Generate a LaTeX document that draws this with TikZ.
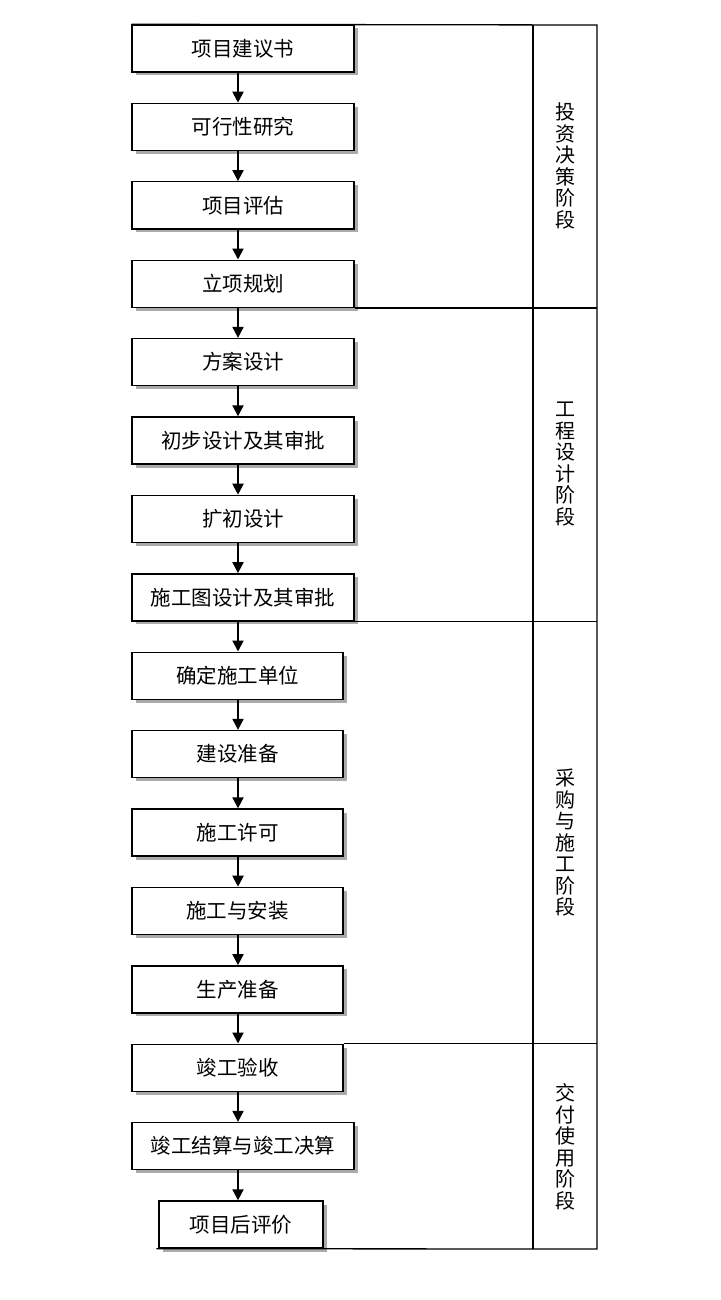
\documentclass[tikz,border=0pt]{standalone}
\usepackage{fontspec}
\setmainfont{Noto Sans CJK SC}
\usetikzlibrary{arrows.meta,calc,shadows}

\begin{document}
\begin{tikzpicture}[
  x=1pt,y=-1pt,
  >={Triangle[length=11pt,width=11pt]},
  stepbox/.style={draw,fill=white,line width=1.4pt,inner sep=0pt,
    minimum width=222pt,minimum height=47pt,
    font=\fontsize{20.5}{24}\selectfont,
    drop shadow={shadow xshift=3.5pt,shadow yshift=-3.5pt,fill=black!55,opacity=0.6}},
  narrowbox/.style={stepbox,minimum width=211pt},
  stagelabel/.style={align=center,inner sep=0pt,font=\fontsize{20}{21.5}\selectfont},
  frame/.style={line width=1.3pt},
  flow/.style={->,line width=2pt}
]
\useasboundingbox (0,0) rectangle (720,1300);

% x of the arrow spine and corners of the stage column
\coordinate (spine) at (238,0);
\coordinate (tr) at (597,25);
\coordinate (br) at (597,1249);
\coordinate (tm) at (533,25);
\coordinate (bm) at (533,1249);

% Steps, top to bottom.
\node[stepbox] (b1) at (243,48.5) {项目建议书};
\node[stepbox] (b2) at (243,126.9) {可行性研究};
\node[stepbox] (b3) at (243,205.3) {项目评估};
\node[stepbox] (b4) at (243,283.7) {立项规划};
\node[stepbox] (b5) at (243,362.1) {方案设计};
\node[stepbox] (b6) at (243,440.5) {初步设计及其审批};
\node[stepbox] (b7) at (243,518.9) {扩初设计};
\node[stepbox] (b8) at (243,597.3) {施工图设计及其审批};
\node[narrowbox] (b9) at (237.5,675.7) {确定施工单位};
\node[narrowbox] (b10) at (237.5,754.1) {建设准备};
\node[narrowbox] (b11) at (237.5,832.5) {施工许可};
\node[narrowbox] (b12) at (237.5,910.9) {施工与安装};
\node[narrowbox] (b13) at (237.5,989.3) {生产准备};
\node[narrowbox] (b14) at (237.5,1067.7) {竣工验收};
\node[stepbox] (b15) at (243,1146.1) {竣工结算与竣工决算};
\node[stepbox,minimum width=164pt] (b16) at (241,1224.5) {项目后评价};

% Connectors along one vertical spine.
\foreach \a/\b in {b1/b2,b2/b3,b3/b4,b4/b5,b5/b6,b6/b7,b7/b8,b8/b9,
                   b9/b10,b10/b11,b11/b12,b12/b13,b13/b14,b14/b15,b15/b16}
  \draw[flow] (\a.south -| spine) -- (\b.north -| spine);

% Stage frame on the right.
\draw[frame] (b1.north west) -- (tr) -- (br) -- ($(b16.south west)+(-2,0)$);
\draw[frame] (tm) -- (bm);
\draw[frame] (b4.south east) -- (b4.south east -| tr);
\draw[frame] (b8.south east) -- (b8.south east -| tr);
\draw[frame] (b14.north east) -- (b14.north east -| tr);

% Stage names, one character per line.
\node[stagelabel] (s1) at (565,166) {投\\资\\决\\策\\阶\\段};
\node[stagelabel] (s2) at (565,464) {工\\程\\设\\计\\阶\\段};
\node[stagelabel] (s3) at (565,843) {采\\购\\与\\施\\工\\阶\\段};
\node[stagelabel] (s4) at (565,1147) {交\\付\\使\\用\\阶\\段};
\end{tikzpicture}
\end{document}
